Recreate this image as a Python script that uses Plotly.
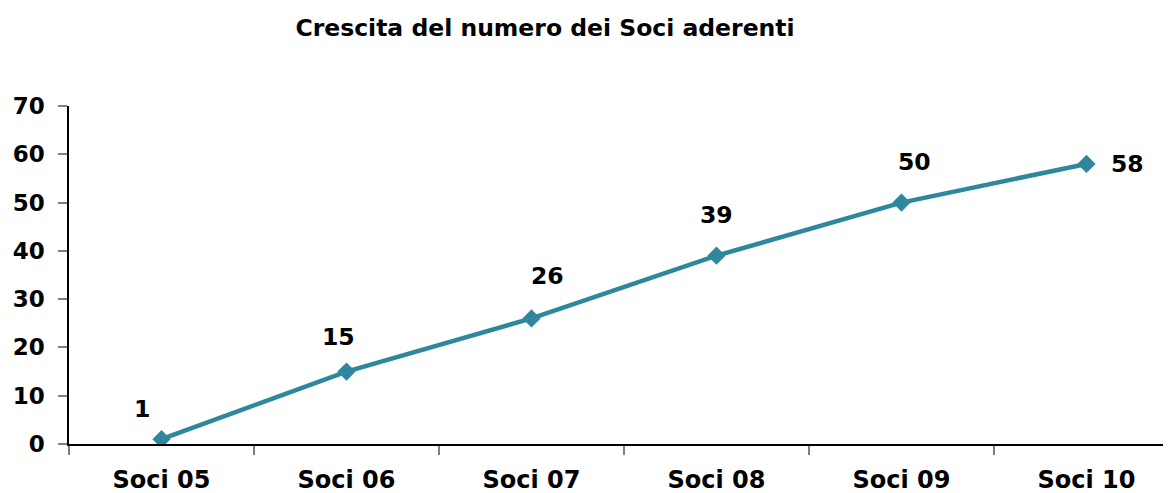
import plotly.graph_objects as go

categories = ["Soci 05", "Soci 06", "Soci 07", "Soci 08", "Soci 09", "Soci 10"]
values = [1, 15, 26, 39, 50, 58]
y_ticks = [0, 10, 20, 30, 40, 50, 60, 70]
title_text = "Crescita del numero dei Soci aderenti"

# label offsets (pixels) relative to each point
label_dx = [-20, -8, 16, 0, 13, 23]
label_dy = [30, 35, 42, 41, 41, 0]

LINE_COLOR = "#2E879C"
FONT = "DejaVu Sans"

# page body has an 8px default margin; compensate
W, H = 1163, 485

fig = go.Figure()
fig.add_trace(go.Scatter(
    x=categories, y=values, mode="lines+markers",
    line=dict(color=LINE_COLOR, width=4.5),
    marker=dict(symbol="diamond", size=14, color=LINE_COLOR),
    hoverinfo="skip", showlegend=False,
))

for i, (c, v) in enumerate(zip(categories, values)):
    fig.add_annotation(
        x=c, y=v, text=str(v), showarrow=False,
        xshift=label_dx[i], yshift=label_dy[i],
        xanchor="left" if i == len(values) - 1 else "center",
        font=dict(family=FONT, size=23.5, color="black", weight="bold"),
    )

fig.update_layout(
    width=W, height=H,
    margin=dict(l=61, r=0, t=98, b=49),
    paper_bgcolor="white", plot_bgcolor="white",
    title=dict(text=title_text, x=537 / W, xanchor="center",
               xref="container", yref="container", y=1 - 20 / H, yanchor="middle",
               font=dict(family=FONT, size=23.5, color="black", weight="bold")),
    xaxis=dict(
        type="category", range=[-0.5, 5.457], tickson="boundaries",
        showline=True, linecolor="black", linewidth=1.5,
        ticks="outside", ticklen=9, tickcolor="#808080", tickwidth=1.5,
        showgrid=False, zeroline=False,
        ticklabelstandoff=13,
        tickfont=dict(family=FONT, size=24, color="black", weight="bold"),
    ),
    yaxis=dict(
        range=[0, 70], tickmode="array", tickvals=y_ticks,
        showline=True, linecolor="black", linewidth=1.5,
        ticks="outside", ticklen=9, tickcolor="#808080", tickwidth=1.5,
        showgrid=False, zeroline=False,
        ticklabelstandoff=9,
        tickfont=dict(family=FONT, size=23, color="black", weight="bold"),
    ),
)

fig.write_html("out.html")
